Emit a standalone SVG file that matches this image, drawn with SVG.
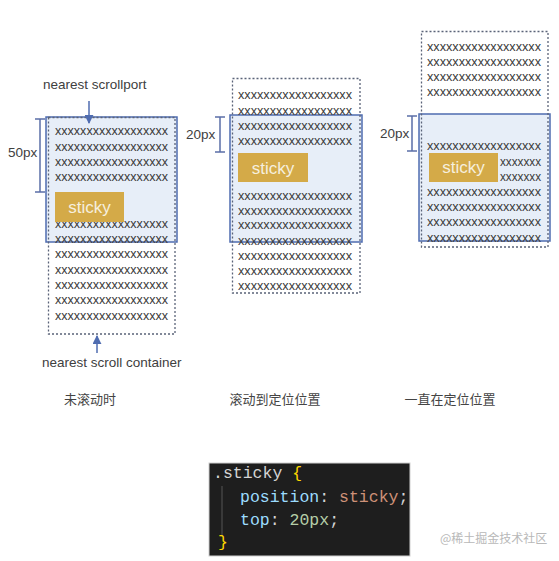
<svg xmlns="http://www.w3.org/2000/svg" width="559" height="561" viewBox="0 0 559 561">
<defs>
<style>
.bg{fill:#ffffff}
.cont{fill:none;stroke:#5a6378;stroke-width:1.3;stroke-dasharray:2 2}
.port{fill:#e7eef8;stroke:#4f6cb0;stroke-width:1.5}
.xs{font-family:"Liberation Sans",Arial,sans-serif;font-size:12px;fill:#3a3a3a}
.stk{fill:#d4aa48}
.stkt{font-family:"Liberation Sans",Arial,sans-serif;font-size:17px;fill:#f6efde;text-anchor:middle}
.lbl{font-family:"Liberation Sans",Arial,sans-serif;font-size:13.5px;fill:#404040}
.cap{font-family:"Noto Sans CJK SC","Liberation Sans",sans-serif;font-size:13px;fill:#444;text-anchor:middle}
.brk{stroke:#5b6fa8;stroke-width:1.5;fill:none}
.arr{stroke:#4f6cb0;stroke-width:1.5;fill:none}
.code{font-family:"Liberation Mono","DejaVu Sans Mono",monospace;font-size:16.5px}
</style>
<marker id="ah" viewBox="0 0 10 10" refX="9" refY="5" markerWidth="6" markerHeight="6" orient="auto-start-reverse">
<path d="M0,0 L10,5 L0,10 z" fill="#4f6cb0"/>
</marker>
</defs>
<rect class="bg" x="0" y="0" width="559" height="561"/>

<g id="panel1">
<rect class="port" x="46" y="117" width="131" height="125"/>
<rect class="cont" x="48.5" y="117.5" width="126.5" height="216.5"/>
<g class="xs">
<text x="55" y="135" textLength="113" lengthAdjust="spacingAndGlyphs">xxxxxxxxxxxxxxxxxx</text>
<text x="55" y="151" textLength="113" lengthAdjust="spacingAndGlyphs">xxxxxxxxxxxxxxxxxx</text>
<text x="55" y="166" textLength="113" lengthAdjust="spacingAndGlyphs">xxxxxxxxxxxxxxxxxx</text>
<text x="55" y="181" textLength="113" lengthAdjust="spacingAndGlyphs">xxxxxxxxxxxxxxxxxx</text>
<text x="55" y="228" textLength="113" lengthAdjust="spacingAndGlyphs">xxxxxxxxxxxxxxxxxx</text>
<text x="55" y="243" textLength="113" lengthAdjust="spacingAndGlyphs">xxxxxxxxxxxxxxxxxx</text>
<text x="55" y="258" textLength="113" lengthAdjust="spacingAndGlyphs">xxxxxxxxxxxxxxxxxx</text>
<text x="55" y="274" textLength="113" lengthAdjust="spacingAndGlyphs">xxxxxxxxxxxxxxxxxx</text>
<text x="55" y="289" textLength="113" lengthAdjust="spacingAndGlyphs">xxxxxxxxxxxxxxxxxx</text>
<text x="55" y="304" textLength="113" lengthAdjust="spacingAndGlyphs">xxxxxxxxxxxxxxxxxx</text>
<text x="55" y="320" textLength="113" lengthAdjust="spacingAndGlyphs">xxxxxxxxxxxxxxxxxx</text>
</g>
<rect class="stk" x="55" y="192" width="69" height="30"/>
<text class="stkt" x="89.5" y="213">sticky</text>
<text class="lbl" x="43" y="89">nearest scrollport</text>
<text class="lbl" x="42" y="367">nearest scroll container</text>
<text class="lbl" x="8" y="157">50px</text>
<path class="brk" d="M40,119 V192 M35,119 H45 M35,192 H45"/>
</g>

<g id="panel2">
<rect class="port" x="230" y="115" width="132" height="127"/>
<rect class="cont" x="232.5" y="78.5" width="127.5" height="214.5"/>
<g class="xs">
<text x="238" y="99" textLength="114" lengthAdjust="spacingAndGlyphs">xxxxxxxxxxxxxxxxxx</text>
<text x="238" y="115" textLength="114" lengthAdjust="spacingAndGlyphs">xxxxxxxxxxxxxxxxxx</text>
<text x="238" y="130" textLength="114" lengthAdjust="spacingAndGlyphs">xxxxxxxxxxxxxxxxxx</text>
<text x="238" y="145" textLength="114" lengthAdjust="spacingAndGlyphs">xxxxxxxxxxxxxxxxxx</text>
<text x="238" y="200" textLength="114" lengthAdjust="spacingAndGlyphs">xxxxxxxxxxxxxxxxxx</text>
<text x="238" y="215" textLength="114" lengthAdjust="spacingAndGlyphs">xxxxxxxxxxxxxxxxxx</text>
<text x="238" y="229" textLength="114" lengthAdjust="spacingAndGlyphs">xxxxxxxxxxxxxxxxxx</text>
<text x="238" y="245" textLength="114" lengthAdjust="spacingAndGlyphs">xxxxxxxxxxxxxxxxxx</text>
<text x="238" y="260" textLength="114" lengthAdjust="spacingAndGlyphs">xxxxxxxxxxxxxxxxxx</text>
<text x="238" y="275" textLength="114" lengthAdjust="spacingAndGlyphs">xxxxxxxxxxxxxxxxxx</text>
<text x="238" y="290" textLength="114" lengthAdjust="spacingAndGlyphs">xxxxxxxxxxxxxxxxxx</text>
</g>
<rect class="stk" x="238" y="153" width="70" height="29"/>
<text class="stkt" x="273" y="174">sticky</text>
<text class="lbl" x="186" y="139">20px</text>
<path class="brk" d="M220,117 V152 M215,117 H225 M215,152 H225"/>
</g>

<g id="panel3">
<rect class="port" x="419" y="114" width="131" height="127"/>
<rect class="cont" x="421.5" y="31.5" width="126.5" height="215.5"/>
<g class="xs">
<text x="427" y="51" textLength="114" lengthAdjust="spacingAndGlyphs">xxxxxxxxxxxxxxxxxx</text>
<text x="427" y="66" textLength="114" lengthAdjust="spacingAndGlyphs">xxxxxxxxxxxxxxxxxx</text>
<text x="427" y="81" textLength="114" lengthAdjust="spacingAndGlyphs">xxxxxxxxxxxxxxxxxx</text>
<text x="427" y="96" textLength="114" lengthAdjust="spacingAndGlyphs">xxxxxxxxxxxxxxxxxx</text>
<text x="427" y="150" textLength="114" lengthAdjust="spacingAndGlyphs">xxxxxxxxxxxxxxxxxx</text>
<text x="500" y="166" textLength="41" lengthAdjust="spacingAndGlyphs">xxxxxxx</text>
<text x="500" y="181" textLength="41" lengthAdjust="spacingAndGlyphs">xxxxxxx</text>
<text x="427" y="196" textLength="114" lengthAdjust="spacingAndGlyphs">xxxxxxxxxxxxxxxxxx</text>
<text x="427" y="211" textLength="114" lengthAdjust="spacingAndGlyphs">xxxxxxxxxxxxxxxxxx</text>
<text x="427" y="226" textLength="114" lengthAdjust="spacingAndGlyphs">xxxxxxxxxxxxxxxxxx</text>
<text x="427" y="242" textLength="114" lengthAdjust="spacingAndGlyphs">xxxxxxxxxxxxxxxxxx</text>
</g>
<rect class="stk" x="429" y="153" width="69" height="29"/>
<text class="stkt" x="463.5" y="173">sticky</text>
<text class="lbl" x="380" y="138">20px</text>
<path class="brk" d="M412,116 V151 M407,116 H417 M407,151 H417"/>
</g>

<g id="connectors">
<line class="arr" x1="89" y1="101" x2="89" y2="123" marker-end="url(#ah)"/>
<line class="arr" x1="97" y1="353" x2="97" y2="336" marker-end="url(#ah)"/>
</g>

<g id="captions">
<text class="cap" x="90" y="404">未滚动时</text>
<text class="cap" x="275" y="404">滚动到定位位置</text>
<text class="cap" x="450" y="404">一直在定位位置</text>
</g>

<g id="code">
<rect x="209" y="463" width="201" height="93" fill="#1e1e1e" stroke="#d0d0d0" stroke-width="1"/>
<line x1="222" y1="486" x2="222" y2="536" stroke="#555" stroke-width="1"/>
<text class="code" x="213" y="478"><tspan fill="#d4d4d4">.sticky </tspan><tspan fill="#ffd700">{</tspan></text>
<text class="code" x="240" y="502"><tspan fill="#9cdcfe">position</tspan><tspan fill="#d4d4d4">: </tspan><tspan fill="#ce9178">sticky</tspan><tspan fill="#d4d4d4">;</tspan></text>
<text class="code" x="240" y="525"><tspan fill="#9cdcfe">top</tspan><tspan fill="#d4d4d4">: </tspan><tspan fill="#b5cea8">20px</tspan><tspan fill="#d4d4d4">;</tspan></text>
<text class="code" x="218" y="547" fill="#ffd700">}</text>
</g>

<text x="440" y="543" style="font-family:'Noto Sans CJK SC','Liberation Sans',sans-serif;font-size:12px;fill:#b8b8b8">@稀土掘金技术社区</text>
</svg>
